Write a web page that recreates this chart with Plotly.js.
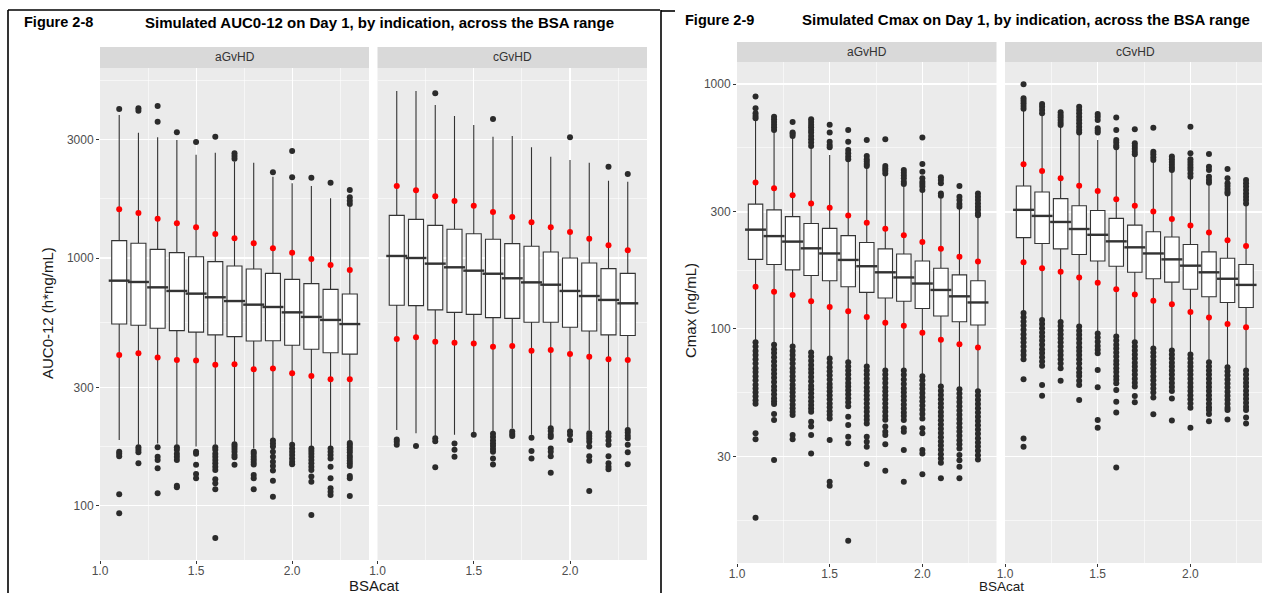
<!DOCTYPE html>
<html>
<head>
<meta charset="utf-8">
<script src="https://cdn.plot.ly/plotly-3.0.1.min.js"></script>
<style>
  html, body { margin: 0; padding: 0; background: #ffffff; }
  #chart { width: 1262px; height: 593px; }
</style>
</head>
<body>
<div id="chart"></div>
<script>
// BSA categories (box positions on the BSAcat axis)
const BSA = [1.1, 1.2, 1.3, 1.4, 1.5, 1.6, 1.7, 1.8, 1.9, 2.0, 2.1, 2.2, 2.3];

// Axis ticks and labels
const xTicks = [1.0, 1.5, 2.0];
const xTickText = ['1.0', '1.5', '2.0'];
const xMinor = [1.25, 1.75, 2.25];
const aucTicks = [100, 300, 1000, 3000];
const aucTickText = ['100', '300', '1000', '3000'];
const aucMinor = [173.2, 547.7, 1732, 5196];
const cmaxTicks = [30, 100, 300, 1000];
const cmaxTickText = ['30', '100', '300', '1000'];
const cmaxMinor = [16.43, 54.77, 173.2, 547.7];

// ---- AUC0-12, aGvHD ----
const aucA_q1  = [541, 535, 520, 509, 502, 489, 481, 462, 463, 444, 428, 414, 409];
const aucA_med = [810, 800, 761, 736, 718, 694, 670, 648, 634, 603, 578, 562, 541];
const aucA_q3  = [1175, 1147, 1084, 1051, 1012, 967, 928, 903, 867, 820, 788, 747, 715];
const aucA_lo  = [184, 176, 178, 176, 173, 176, 181, 170, 187, 178, 173, 173, 181];
const aucA_hi  = [3783, 3209, 3073, 2999, 2616, 2665, 2450, 2428, 2131, 2003, 1954, 1742, 1612];
const aucA_p5  = [406, 412, 396, 387, 385, 370, 372, 355, 358, 342, 334, 324, 324];
const aucA_p95 = [1573, 1520, 1442, 1381, 1330, 1250, 1201, 1147, 1094, 1051, 991, 937, 894];
const aucA_out = [
  [4000, 165, 162, 158, 111, 93],
  [4025, 3937, 172, 168, 164, 148],
  [4113, 3554, 172, 157.5, 152.7, 141.3, 112],
  [3219, 172, 168, 162, 157.5, 152.7, 120.3, 118.4],
  [2942, 165, 162, 146, 134, 128.8],
  [3091, 172, 168, 162, 157.5, 152.7, 148, 143.5, 139.1, 127.6, 122.9, 116.2, 73.9],
  [2649, 2583, 2519, 177, 173, 169, 165, 160, 156.5, 146],
  [165, 162, 157.5, 153.6, 150, 146.4, 132.8, 128.8, 116.2],
  [2219, 183, 178, 173, 165, 157.5, 150.3, 144.4, 138.4, 126, 108.6],
  [2706, 2118, 176, 170, 165, 160, 155, 150.3, 146.7],
  [2112, 170, 166, 162, 157.5, 152.7, 148, 143.5, 139.1, 131, 124.8, 91.5],
  [2016, 170, 165, 160, 155, 143.5, 128.8, 117.3, 113.7, 110.3],
  [1883, 1759, 1704, 1653, 179, 176, 172, 168, 164, 159, 155.5, 151.8, 148, 144.4, 131.6, 128.8, 109.2]
];

// ---- AUC0-12, cGvHD ----
const aucC_q1  = [644, 642, 617, 603, 592, 574, 570, 550, 550, 525, 507, 489, 486];
const aucC_med = [1019, 1000, 949, 917, 889, 864, 828, 797, 780, 736, 702, 677, 656];
const aucC_q3  = [1487, 1433, 1355, 1306, 1254, 1190, 1143, 1115, 1057, 1000, 954, 906, 867];
const aucC_lo  = [202, 196, 190, 193, 197, 199, 205, 193, 208, 202, 202, 199, 205];
const aucC_hi  = [4728, 4728, 4152, 3747, 3447, 3091, 3111, 2800, 2567, 2489, 2428, 2053, 2034];
const aucC_p5  = [471, 478, 459, 455, 451, 438, 441, 422, 425, 409, 399, 390, 387];
const aucC_p95 = [1954, 1877, 1775, 1699, 1627, 1534, 1465, 1394, 1330, 1274, 1197, 1125, 1074];
const aucC_out = [
  [185, 181, 176],
  [174],
  [4627, 187, 182, 142.6],
  [178, 168, 157.5],
  [193],
  [3645, 195, 189, 183, 178, 174, 169, 165, 155, 146.4],
  [199, 194.5, 191],
  [188, 166, 155],
  [205, 200, 193, 189, 170, 165, 158, 135.7],
  [3073, 199, 193, 184],
  [196, 191, 186, 181, 173, 158, 151.8, 114.4],
  [2339, 196, 190, 183, 176, 158, 148, 143.5, 140],
  [2185, 202, 197, 191.5, 187, 176, 164, 146.7]
];

// ---- Cmax, aGvHD ----
const cmaxA_q1  = [192, 183, 174, 165, 157, 148.5, 140.8, 133.5, 129.4, 121, 112.7, 106.8, 103.5];
const cmaxA_med = [254, 239, 227, 213, 203, 191, 180, 170, 162, 153, 144, 135.6, 128];
const cmaxA_q3  = [323, 306, 287, 269, 257, 240, 225, 212, 202, 189, 176.5, 166, 157];
const cmaxA_lo  = [90, 87.5, 85.5, 81, 76.5, 74, 71, 68.5, 68.5, 64.5, 59, 57.5, 56.5];
const cmaxA_hi  = [713, 639, 600, 551, 513, 489, 459, 425, 381, 363, 341, 310, 287];
const cmaxA_p5  = [148.5, 141.7, 137.3, 129.4, 122.7, 117.8, 111.6, 105.8, 102.9, 96.3, 90.2, 86.3, 83.7];
const cmaxA_p95 = [396, 375, 351, 325, 312, 290, 271, 256, 241, 226, 212, 197, 188];
const cmaxA_out = [
  [888, 796, 759, 740, 724, 88, 84.5, 81, 78, 75, 72, 69, 66.5, 64, 61.5, 59, 57, 55, 53, 51, 49.3, 37.4, 35.3, 16.9],
  [735, 717, 699, 682, 665, 649, 86, 82.5, 79.5, 76.5, 73.5, 70.5, 68, 65.5, 63, 60.5, 58, 56, 54, 52, 50.5, 49.2, 44.8, 42.4, 29.1],
  [699, 633, 625, 613, 84.5, 81, 78, 75, 72, 69, 66.5, 64, 61.5, 59, 57, 55, 53, 51, 49, 47.3, 45.8, 44.4, 36.8, 35.3],
  [717, 699, 682, 665, 649, 633, 613, 594, 576, 558, 80, 77, 74, 71, 68.5, 66, 63.5, 61, 58.5, 56.5, 54.5, 52.5, 50.5, 48.8, 47.2, 45.8, 41.7, 39.8, 36.8, 30.9],
  [682, 633, 581, 563, 551, 75.5, 72.5, 69.5, 67, 64.5, 62, 59.5, 57.5, 55.5, 53.5, 51.5, 49.5, 47.8, 46, 44.5, 43, 35.1, 23.7, 22.8],
  [649, 581, 537, 521, 505, 492, 73, 70, 67.5, 65, 62.5, 60, 58, 56, 54, 52, 50, 48.2, 43.7, 40.4, 36.2, 34, 13.6],
  [590, 508, 492, 482, 471, 462, 70, 67.5, 65, 62.5, 60, 57.5, 55.5, 53.5, 51.5, 49.5, 47.5, 45.8, 44, 42.5, 41, 36.2, 34.5, 32.9, 28],
  [594, 462, 452, 442, 431, 67.5, 65, 62.5, 60, 57.5, 55.5, 53.5, 51.5, 49.5, 47.5, 45.8, 44, 42.5, 39.8, 37.9, 36.8, 33.7, 26.3],
  [445, 434, 423, 412, 399, 390, 67.5, 64.8, 62, 59.5, 57, 55, 53, 51, 49, 47.2, 45.5, 44, 42.4, 39.2, 37.9, 31.9, 23.7],
  [604, 471, 438, 412, 399, 390, 381, 369, 64, 61.5, 59, 56.8, 54.6, 52.5, 50.5, 48.5, 46.6, 44.8, 43, 39.2, 37.4, 31.9, 30.9, 25.4],
  [416, 405, 393, 357, 349, 58, 55.8, 53.6, 51.5, 49.5, 47.6, 45.7, 44, 42.3, 40.6, 39, 37.5, 36, 34.6, 33.3, 32, 30.7, 29.5, 28.3, 24.5],
  [383, 346, 336, 323, 315, 56.5, 54.3, 52.2, 50.2, 48.2, 46.3, 44.5, 42.8, 41.1, 39.5, 38, 36.5, 35, 33.7, 32.4, 30.5, 29, 27.3, 24.5],
  [357, 346, 336, 325, 315, 306, 296, 291, 55.5, 53.3, 51.2, 49.2, 47.3, 45.5, 43.7, 42, 40.3, 38.7, 37.2, 35.7, 34.3, 33, 31.7, 30.4, 29.2]
];

// ---- Cmax, cGvHD ----
const cmaxC_q1  = [235.5, 223, 212, 201, 189, 180, 170, 160, 155, 145, 135, 128, 122];
const cmaxC_med = [306, 289, 273, 255.5, 242, 227.5, 215, 203, 192, 181, 170, 160, 151];
const cmaxC_q3  = [383, 362, 340, 318, 304, 282.5, 265, 249, 237, 221, 206, 194, 183];
const cmaxC_lo  = [118, 110, 108, 103, 97, 94, 89.5, 84, 83, 80, 74, 71, 69];
const cmaxC_hi  = [783, 747, 669, 619, 590, 541, 505, 482, 438, 412, 390, 352, 320];
const cmaxC_p5  = [187, 176.5, 171, 162, 154, 145, 138, 130, 126, 117, 111, 104.5, 101.3];
const cmaxC_p95 = [470, 441, 412, 384, 365, 338, 318, 301, 281, 264, 247, 230, 218];
const cmaxC_out = [
  [997, 874, 855, 834, 813, 793, 116, 111.5, 107, 103, 99, 95, 91.5, 88, 84.5, 81, 78, 75, 62.1, 35.6, 32.9],
  [829, 808, 783, 759, 108.5, 104.5, 100.5, 96.5, 93, 89.5, 86, 82.5, 79.5, 76.5, 73.5, 70.5, 58.9, 53.2],
  [766, 747, 731, 713, 695, 680, 106.5, 102.5, 98.5, 95, 91.5, 88, 84.5, 81, 78, 75, 72, 69, 61.3],
  [808, 783, 759, 735, 713, 691, 669, 649, 633, 102, 98, 94.5, 91, 87.5, 84, 81, 78, 75, 72, 69, 66.2, 64.1, 61.3, 58.9, 51.1],
  [754, 735, 713, 659, 645, 633, 95.5, 92, 88.5, 85, 82, 79.3, 67.8, 57.6, 42.4, 39.4],
  [729, 649, 590, 576, 561, 551, 93, 89.5, 86, 83, 80, 77, 74, 71.5, 69, 66.5, 64, 61.8, 59.8, 56.2, 50.3, 45.4, 27.1],
  [653, 572, 558, 544, 529, 516, 88, 84.5, 81.5, 78.5, 75.5, 72.5, 70, 67.5, 65, 62.5, 60.2, 58, 53.1, 50],
  [663, 529, 516, 502, 489, 83, 80, 77, 74, 71.5, 69, 66.5, 64, 61.5, 59.2, 57, 54.8, 52.4, 44.7],
  [505, 492, 480, 468, 456, 445, 81.5, 78.5, 75.5, 72.5, 70, 67.5, 65, 62.5, 60, 57.8, 55.6, 51.9, 42.2],
  [669, 521, 492, 480, 468, 456, 445, 431, 418, 78.5, 75.5, 72.5, 70, 67.5, 65, 62.5, 60, 57.8, 55.6, 53.5, 51.5, 49.5, 47.5, 39.4],
  [518, 459, 445, 418, 405, 395, 73, 70, 67.5, 65, 62.5, 60, 57.8, 55.6, 53.5, 51.5, 49.5, 47.8, 46.5, 44.8, 41.9],
  [449, 412, 393, 383, 372, 363, 357, 69.5, 67, 64.5, 62, 59.7, 57.5, 55.3, 53.2, 51.2, 49.3, 47.5, 46.5, 42.6],
  [405, 393, 381, 369, 357, 346, 336, 325, 67.5, 65, 62.5, 60.2, 58, 55.8, 53.7, 51.7, 49.8, 48, 46.5, 43.4, 41]
];

// ---------------------------------------------------------------
const W = 1262, H = 593;
const px = v => v / W;
const py = v => 1 - v / H;

const INK = '#333333';
const BOX_W = 0.078;

// One facet panel: boxes, thick median bars, outliers, 5th/95th percentile dots
function panelTraces(xa, ya, s) {
  const ox = [], oy = [];
  s.out.forEach((vals, i) => vals.forEach(v => { ox.push(BSA[i]); oy.push(v); }));
  return [
    {
      type: 'box', xaxis: xa, yaxis: ya, x: BSA,
      q1: s.q1, median: s.med, q3: s.q3, lowerfence: s.lo, upperfence: s.hi,
      width: BOX_W, boxpoints: false, whiskerwidth: 0,
      fillcolor: '#FFFFFF', line: { color: INK, width: 1.1 },
      hoverinfo: 'skip', showlegend: false
    },
    {
      type: 'scatter', mode: 'markers', xaxis: xa, yaxis: ya, x: BSA, y: s.med,
      marker: { symbol: 'line-ew', size: 15, color: INK, line: { color: INK, width: 2.4 } },
      hoverinfo: 'skip', showlegend: false, cliponaxis: false
    },
    {
      type: 'scatter', mode: 'markers', xaxis: xa, yaxis: ya, x: ox, y: oy,
      marker: { size: 6, color: '#2B2B2B' },
      hoverinfo: 'skip', showlegend: false
    },
    {
      type: 'scatter', mode: 'markers', xaxis: xa, yaxis: ya,
      x: BSA.concat(BSA), y: s.p5.concat(s.p95),
      marker: { size: 6, color: '#FF0000' },
      hoverinfo: 'skip', showlegend: false
    }
  ];
}

const data = [].concat(
  panelTraces('x', 'y', { q1: aucA_q1, med: aucA_med, q3: aucA_q3, lo: aucA_lo, hi: aucA_hi, p5: aucA_p5, p95: aucA_p95, out: aucA_out }),
  panelTraces('x2', 'y2', { q1: aucC_q1, med: aucC_med, q3: aucC_q3, lo: aucC_lo, hi: aucC_hi, p5: aucC_p5, p95: aucC_p95, out: aucC_out }),
  panelTraces('x3', 'y3', { q1: cmaxA_q1, med: cmaxA_med, q3: cmaxA_q3, lo: cmaxA_lo, hi: cmaxA_hi, p5: cmaxA_p5, p95: cmaxA_p95, out: cmaxA_out }),
  panelTraces('x4', 'y4', { q1: cmaxC_q1, med: cmaxC_med, q3: cmaxC_q3, lo: cmaxC_lo, hi: cmaxC_hi, p5: cmaxC_p5, p95: cmaxC_p95, out: cmaxC_out })
);

const TICKFONT = { family: 'Liberation Sans, Arial, sans-serif', size: 12, color: '#4D4D4D' };
const axisBase = {
  showline: false, zeroline: false, fixedrange: true,
  ticks: 'outside', ticklen: 3, tickwidth: 1, tickcolor: INK,
  tickfont: TICKFONT,
  showgrid: true, gridcolor: '#FFFFFF', gridwidth: 1.1
};
function xAxis(l, r, hi, anchor) {
  return Object.assign({}, axisBase, {
    domain: [px(l), px(r)], range: [1.0, hi], anchor: anchor,
    tickmode: 'array', tickvals: xTicks, ticktext: xTickText,
    ticklabelstandoff: -3,
    minor: { tickmode: 'array', tickvals: xMinor, showgrid: true, gridcolor: '#FFFFFF', gridwidth: 0.55, ticks: '' }
  });
}
function yAxis(t, b, range, ticks, text, minor, anchor, labels) {
  return Object.assign({}, axisBase, {
    type: 'log', domain: [py(b), py(t)], range: range, anchor: anchor,
    tickmode: 'array', tickvals: ticks, ticktext: text,
    ticks: labels ? 'outside' : '', showticklabels: labels,
    minor: { tickmode: 'array', tickvals: minor, showgrid: true, gridcolor: '#FFFFFF', gridwidth: 0.55, ticks: '' }
  });
}

const aucRange = [1.7798, 3.7677];
const cmaxRange = [1.0425, 3.0899];

const FIGFONT = { family: 'Liberation Sans, Arial, sans-serif', size: 14.5, color: '#000000' };
const TITLEFONT = { family: 'Liberation Sans, Arial, sans-serif', size: 15, color: '#000000' };
const STRIPFONT = { family: 'Liberation Sans, Arial, sans-serif', size: 12, color: '#333333' };
const LABFONT = { family: 'Liberation Sans, Arial, sans-serif', size: 15, color: '#1A1A1A' };
const LABFONT_R = { family: 'Liberation Sans, Arial, sans-serif', size: 13.5, color: '#1A1A1A' };

function strip(l, r, t, b) {
  return { type: 'rect', xref: 'paper', yref: 'paper', x0: px(l), x1: px(r), y0: py(b), y1: py(t),
           fillcolor: '#D9D9D9', line: { width: 0 }, layer: 'below' };
}
function rule(x0, y0, x1, y1) {
  return { type: 'line', xref: 'paper', yref: 'paper', x0: px(x0), y0: py(y0), x1: px(x1), y1: py(y1),
           line: { color: '#000000', width: 1.6 } };
}
function note(text, x, y, font, opts) {
  return Object.assign({ text: text, x: px(x), y: py(y), xref: 'paper', yref: 'paper',
                         showarrow: false, font: font, xanchor: 'center', yanchor: 'middle' }, opts || {});
}

const layout = {
  width: W, height: H,
  margin: { l: 0, r: 0, t: 0, b: 0 },
  paper_bgcolor: '#FFFFFF', plot_bgcolor: '#EBEBEB',
  showlegend: false,
  xaxis:  xAxis(100, 369, 2.4, 'y'),
  xaxis2: xAxis(377.5, 647, 2.4, 'y2'),
  xaxis3: xAxis(737, 996.5, 2.4, 'y3'),
  xaxis4: xAxis(1005, 1262, 2.386, 'y4'),
  yaxis:  yAxis(68, 560, aucRange, aucTicks, aucTickText, aucMinor, 'x', true),
  yaxis2: yAxis(68, 560, aucRange, aucTicks, aucTickText, aucMinor, 'x2', false),
  yaxis3: yAxis(62, 563, cmaxRange, cmaxTicks, cmaxTickText, cmaxMinor, 'x3', true),
  yaxis4: yAxis(62, 563, cmaxRange, cmaxTicks, cmaxTickText, cmaxMinor, 'x4', false),
  shapes: [
    strip(100, 369, 47, 68),
    strip(377.5, 647, 47, 68),
    strip(737, 996.5, 42, 62),
    strip(1005, 1262, 42, 62),
    rule(8, 10, 660, 10),
    rule(8, 10, 8, 593),
    rule(661, 10, 661, 593),
    rule(661, 11, 675, 11)
  ],
  annotations: [
    note('<b>Figure 2-8</b>', 22, 22, FIGFONT, { xanchor: 'left' }),
    note('<b>Simulated AUC0-12 on Day 1, by indication, across the BSA range</b>', 143, 22, TITLEFONT, { xanchor: 'left' }),
    note('<b>Figure 2-9</b>', 683, 20, FIGFONT, { xanchor: 'left' }),
    note('<b>Simulated Cmax on Day 1, by indication, across the BSA range</b>', 800, 20, TITLEFONT, { xanchor: 'left' }),
    note('aGvHD', 234.5, 57.5, STRIPFONT),
    note('cGvHD', 512, 57.5, STRIPFONT),
    note('aGvHD', 867, 52, STRIPFONT),
    note('cGvHD', 1135, 52, STRIPFONT),
    note('BSAcat', 374, 585, LABFONT),
    note('BSAcat', 1001, 586, LABFONT_R),
    note('AUC0-12 (h*ng/mL)', 47, 313, LABFONT, { textangle: -90 }),
    note('Cmax (ng/mL)', 690, 311, LABFONT, { textangle: -90 })
  ]
};

Plotly.newPlot('chart', data, layout, { staticPlot: true, displayModeBar: false });
</script>
</body>
</html>
